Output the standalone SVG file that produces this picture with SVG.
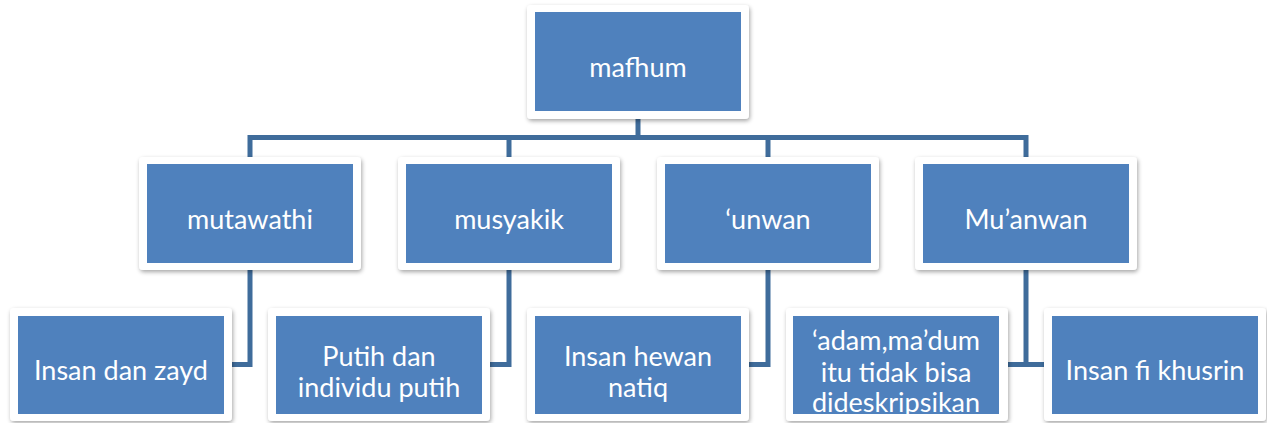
<svg xmlns="http://www.w3.org/2000/svg" width="1267" height="423" viewBox="0 0 1267 423">
<style>
.frame{fill:#ffffff;filter:url(#sh)}
.box{fill:#4F81BD}
.t{font-family:Lato,"Liberation Sans",sans-serif;font-size:27px;fill:#ffffff;text-anchor:middle}
.con{fill:none;stroke:#3F6C9B;stroke-width:5;stroke-linejoin:miter;stroke-linecap:butt}
</style>
<defs>
<filter id="sh" x="-10%" y="-10%" width="120%" height="130%">
<feDropShadow dx="1" dy="2" stdDeviation="2" flood-color="#000000" flood-opacity="0.35"/>
</filter>
<clipPath id="clip4"><rect x="793" y="316" width="206" height="98"/></clipPath>
</defs>
<rect width="1267" height="423" fill="#ffffff"/>
<g id="connectors">
<path class="con" d="M638 119 V137.5"/>
<path class="con" d="M250 157 V137.5 H1026 V157"/>
<path class="con" d="M509 137.5 V157"/>
<path class="con" d="M768 137.5 V157"/>
<path class="con" d="M250 270 V364.5 H231"/>
<path class="con" d="M509 270 V364.5 H490"/>
<path class="con" d="M768 270 V364.5 H749"/>
<path class="con" d="M1026 270 V364.5"/>
<path class="con" d="M1007 364.5 H1044"/>
</g>
<g id="mafhum">
<rect class="frame" x="527" y="5" width="222" height="114" rx="4"/>
<rect class="box" x="535" y="12" width="206" height="99"/>
<text class="t" x="638" y="77">mafhum</text>
</g>
<g id="mutawathi">
<rect class="frame" x="139" y="157" width="222" height="113" rx="4"/>
<rect class="box" x="147" y="164" width="206" height="99"/>
<text class="t" x="250" y="229">mutawathi</text>
</g>
<g id="musyakik">
<rect class="frame" x="398" y="157" width="222" height="113" rx="4"/>
<rect class="box" x="406" y="164" width="206" height="99"/>
<text class="t" x="509" y="229">musyakik</text>
</g>
<g id="unwan">
<rect class="frame" x="657" y="157" width="222" height="113" rx="4"/>
<rect class="box" x="665" y="164" width="206" height="99"/>
<text class="t" x="768" y="229">‘unwan</text>
</g>
<g id="muanwan">
<rect class="frame" x="915" y="157" width="222" height="113" rx="4"/>
<rect class="box" x="923" y="164" width="206" height="99"/>
<text class="t" x="1026" y="229">Mu’anwan</text>
</g>
<g id="insan-dan-zayd">
<rect class="frame" x="10" y="308" width="222" height="113" rx="4"/>
<rect class="box" x="18" y="316" width="206" height="98"/>
<text class="t" x="121" y="380">Insan dan zayd</text>
</g>
<g id="putih">
<rect class="frame" x="268" y="308" width="222" height="113" rx="4"/>
<rect class="box" x="276" y="316" width="206" height="98"/>
<text class="t" x="379" y="366">Putih dan</text>
<text class="t" x="379" y="397">individu putih</text>
</g>
<g id="insan-hewan">
<rect class="frame" x="527" y="308" width="222" height="113" rx="4"/>
<rect class="box" x="535" y="316" width="206" height="98"/>
<text class="t" x="638" y="366">Insan hewan</text>
<text class="t" x="638" y="397">natiq</text>
</g>
<g id="adam">
<rect class="frame" x="786" y="308" width="222" height="113" rx="4"/>
<rect class="box" x="793" y="316" width="206" height="98"/>
<g clip-path="url(#clip4)">
<text class="t" x="896" y="350">‘adam,ma’dum</text>
<text class="t" x="896" y="382">itu tidak bisa</text>
<text class="t" x="896" y="412">dideskripsikan</text>
</g>
</g>
<g id="insan-fi-khusrin">
<rect class="frame" x="1044" y="308" width="222" height="113" rx="4"/>
<rect class="box" x="1052" y="316" width="206" height="98"/>
<text class="t" x="1155" y="380">Insan fi khusrin</text>
</g>
</svg>
